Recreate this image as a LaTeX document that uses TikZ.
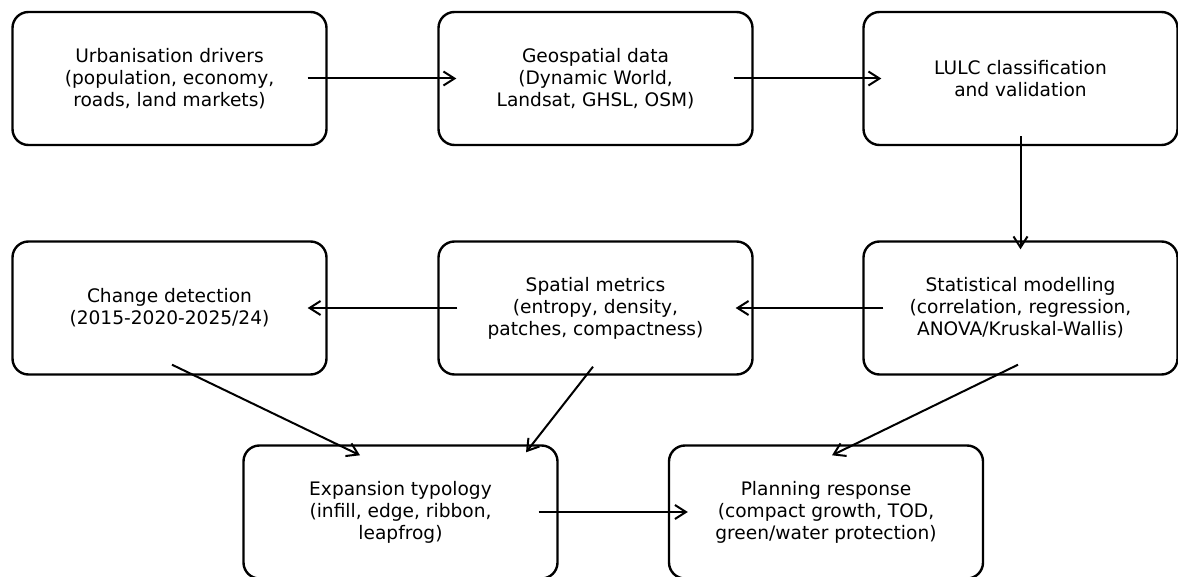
\documentclass[tikz,border=0pt]{standalone}
\usepackage{fontspec}
\setmainfont{DejaVu Sans}
\usetikzlibrary{arrows.meta,calc}
\begin{document}
\begin{tikzpicture}[x=1pt,y=-1pt,
  box/.style={draw=black,line width=2.4pt,rounded corners=16pt,fill=white,
    minimum width=314pt,minimum height=133pt,align=center,
    font=\fontsize{18.6}{22}\selectfont,inner sep=0pt},
  conn/.style={line width=2pt,-{Straight Barb[length=11pt,width=14pt,line width=2pt]}}]
\path[use as bounding box] (0,0) rectangle (1178,577);
\begin{scope}
\clip (0,0) rectangle (1178,577);
\node[box] (b1) at (169.5,78.5) {Urbanisation drivers\\(population, economy,\\roads, land markets)};
\node[box] (b2) at (595.5,78.5) {Geospatial data\\(Dynamic World,\\Landsat, GHSL, OSM)};
\node[box] (b3) at (1020.5,78.5) {LULC classification\\and validation};
\node[box] (b4) at (169.5,308) {Change detection\\(2015-2020-2025/24)};
\node[box] (b5) at (595.5,308) {Spatial metrics\\(entropy, density,\\patches, compactness)};
\node[box] (b6) at (1020.5,308) {Statistical modelling\\(correlation, regression,\\ANOVA/Kruskal-Wallis)};
\node[box] (b7) at (400.5,512) {Expansion typology\\(infill, edge, ribbon,\\leapfrog)};
\node[box] (b8) at (826,512) {Planning response\\(compact growth, TOD,\\green/water protection)};
\end{scope}
\draw[conn] ($(b1.east)+(-20,0)$) -- ($(b2.west)+(19,0)$);
\draw[conn] ($(b2.east)+(-20,0)$) -- ($(b3.west)+(19,0)$);
\draw[conn] ($(b3.south)+(0,-10)$) -- ($(b6.north)+(0,9)$);
\draw[conn] ($(b6.west)+(21,0)$) -- ($(b5.east)+(-18,0)$);
\draw[conn] ($(b5.west)+(20,0)$) -- ($(b4.east)+(-20,0)$);
\draw[conn] ($(b4.south)+(2.5,-11)$) -- ($(b7.north)+(-40.5,11)$);
\draw[conn] ($(b5.south)+(-2.5,-9)$) -- ($(b7.north)+(125.5,8)$);
\draw[conn] ($(b6.south)+(-2.5,-11)$) -- ($(b8.north)+(6,11)$);
\draw[conn] ($(b7.east)+(-20,0)$) -- ($(b8.west)+(20,0)$);
\end{tikzpicture}
\end{document}
